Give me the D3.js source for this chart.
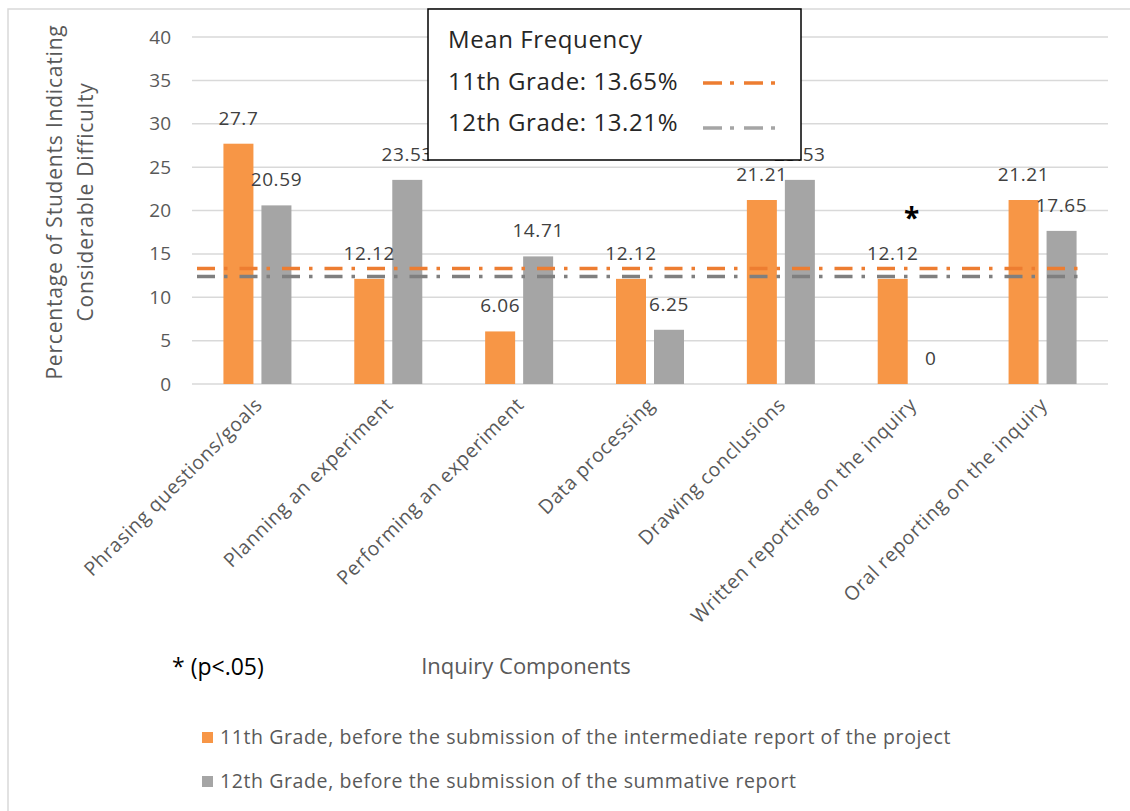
<!DOCTYPE html>
<html>
<head>
<meta charset="utf-8">
<script src="https://cdn.jsdelivr.net/npm/d3@7"></script>
<style>
  body { margin: 0; background: #fff; }
  svg text { font-family: "Open Sans", sans-serif; }
</style>
</head>
<body>
<svg id="chart" width="1130" height="811"></svg>
<script>
// data
var categories = ["Phrasing questions/goals", "Planning an experiment", "Performing an experiment",
    "Data processing", "Drawing conclusions", "Written reporting on the inquiry", "Oral reporting on the inquiry"];
var grade11 = [27.7, 12.12, 6.06, 12.12, 21.21, 12.12, 21.21];
var grade12 = [20.59, 23.53, 14.71, 6.25, 23.53, 0, 17.65];
var seriesNames = ["11th Grade, before the submission of the intermediate report of the project",
    "12th Grade, before the submission of the summative report"];
var meanLabels = ["11th Grade: 13.65%", "12th Grade: 13.21%"];
var meanLevels = [13.3, 12.4];   // where the dashed lines sit in the picture
var yTicks = [0, 5, 10, 15, 20, 25, 30, 35, 40];
var significant = ["Written reporting on the inquiry"];

var barColors = ["#F79646", "#A5A5A5"];
var lineColors = ["#ED7D31", "#7F7F7F"];
var sampleColors = ["#ED7D31", "#A5A5A5"];

var chart = d3.select("#chart");

// outer frame (only top/left visible in the picture)
chart.append("rect")
    .attr("x", 8).attr("y", 9)
    .attr("width", 1300).attr("height", 1000)
    .attr("fill", "none")
    .attr("stroke", "#D9D9D9")
    .attr("stroke-width", 1.5);

var xScale = d3.scaleBand()
    .domain(categories)
    .range([192, 1108]);

var xInner = d3.scaleBand()
    .domain([0, 1])
    .range([0, 68])
    .paddingInner(0.2105);

var yScale = d3.scaleLinear()
    .domain([0, 40])
    .range([384, 37]);

// gridlines
chart.append("g")
    .selectAll("line")
    .data(yTicks).enter()
        .append("line")
        .attr("x1", 192).attr("x2", 1108)
        .attr("y1", function(d) { return yScale(d); })
        .attr("y2", function(d) { return yScale(d); })
        .attr("stroke", "#D9D9D9")
        .attr("stroke-width", 1.5);

// y axis tick labels
var yAxis = chart.append("g")
    .attr("transform", "translate(171,0)")
    .call(d3.axisLeft(yScale).tickValues(yTicks).tickSize(0).tickPadding(0));
yAxis.select(".domain").remove();
yAxis.selectAll("text")
    .attr("font-family", "Open Sans")
    .attr("font-size", "19px")
    .attr("fill", "#595959");

// bars
var rows = categories.map(function(c, i) { return { cat: c, vals: [grade11[i], grade12[i]] }; });

var groups = chart.append("g").selectAll("g")
    .data(rows).enter()
    .append("g")
    .attr("transform", function(d) {
        return "translate(" + (xScale(d.cat) + (xScale.bandwidth() - 68) / 2) + ",0)";
    });

groups.selectAll("rect")
    .data(function(d) { return d.vals; }).enter()
        .append("rect")
        .attr("x", function(d, i) { return xInner(i); })
        .attr("y", function(d) { return yScale(d); })
        .attr("width", xInner.bandwidth())
        .attr("height", function(d) { return yScale(0) - yScale(d); })
        .attr("fill", function(d, i) { return barColors[i]; });

groups.selectAll("text")
    .data(function(d) { return d.vals; }).enter()
        .append("text")
        .text(function(d) { return d; })
        .attr("x", function(d, i) { return xInner(i) + xInner.bandwidth() / 2; })
        .attr("y", function(d) { return yScale(d) - 19; })
        .attr("text-anchor", "middle")
        .attr("font-size", "19px")
        .attr("letter-spacing", "0.6px")
        .attr("fill", "#404040");

// mean lines
chart.append("g").selectAll("line")
    .data(meanLevels).enter()
        .append("line")
        .attr("x1", 197).attr("x2", 1083)
        .attr("y1", function(d) { return yScale(d); })
        .attr("y2", function(d) { return yScale(d); })
        .attr("stroke", function(d, i) { return lineColors[i]; })
        .attr("stroke-width", 3.5)
        .attr("stroke-dasharray", "18,9,3.5,12");

// significance star
chart.selectAll(".star")
    .data(significant).enter()
        .append("text")
        .text("*")
        .attr("x", function(d) { return xScale(d) + xScale.bandwidth() / 2; })
        .attr("y", 228)
        .attr("text-anchor", "middle")
        .attr("font-size", "28px")
        .attr("font-weight", "bold")
        .attr("fill", "#000");

// x category labels
chart.append("g").selectAll("text")
    .data(categories).enter()
        .append("text")
        .text(function(d) { return d; })
        .attr("transform", function(d) {
            return "translate(" + (xScale(d) + xScale.bandwidth() / 2 + 6) + ",406) rotate(-45)";
        })
        .attr("text-anchor", "end")
        .attr("font-size", "19.5px")
        .attr("letter-spacing", "0.6px")
        .attr("fill", "#595959");

// axis titles
chart.append("text")
    .attr("transform", "translate(62,202) rotate(-90)")
    .attr("text-anchor", "middle")
    .attr("font-size", "21px")
    .attr("letter-spacing", "0.8px")
    .attr("fill", "#595959")
    .text("Percentage of Students Indicating");
chart.append("text")
    .attr("transform", "translate(93,202) rotate(-90)")
    .attr("text-anchor", "middle")
    .attr("font-size", "21px")
    .attr("letter-spacing", "0.8px")
    .attr("fill", "#595959")
    .text("Considerable Difficulty");

chart.append("text")
    .attr("x", 526).attr("y", 674)
    .attr("text-anchor", "middle")
    .attr("font-size", "22px")
    .attr("fill", "#595959")
    .text("Inquiry Components");

chart.append("text")
    .attr("x", 172).attr("y", 675)
    .attr("font-size", "23px")
    .attr("fill", "#000")
    .text("* (p<.05)");

// mean frequency box
var box = chart.append("g");
box.append("rect")
    .attr("x", 428).attr("y", 9)
    .attr("width", 373).attr("height", 151)
    .attr("fill", "#fff")
    .attr("stroke", "#000")
    .attr("stroke-width", 1.5);
box.append("text")
    .attr("x", 448).attr("y", 48)
    .attr("font-size", "24px")
    .attr("letter-spacing", "0.6px")
    .attr("fill", "#262626")
    .text("Mean Frequency");
box.selectAll(".ml")
    .data(meanLabels).enter()
        .append("text")
        .attr("x", 448)
        .attr("y", function(d, i) { return 90 + i * 41; })
        .attr("font-size", "24px")
        .attr("letter-spacing", "0.6px")
        .attr("fill", "#262626")
        .text(function(d) { return d; });
box.selectAll(".ms")
    .data(meanLabels).enter()
        .append("line")
        .attr("x1", 703).attr("x2", 778)
        .attr("y1", function(d, i) { return 83 + i * 45; })
        .attr("y2", function(d, i) { return 83 + i * 45; })
        .attr("stroke", function(d, i) { return sampleColors[i]; })
        .attr("stroke-width", 3.5)
        .attr("stroke-dasharray", "19,8,4,10");

// series legend
var leg = chart.append("g").selectAll("g")
    .data(seriesNames).enter()
    .append("g")
    .attr("transform", function(d, i) { return "translate(202," + (732 + i * 44) + ")"; });
leg.append("rect")
    .attr("width", 11).attr("height", 11)
    .attr("fill", function(d, i) { return barColors[i]; });
leg.append("text")
    .attr("x", 18).attr("y", 12)
    .attr("font-size", "19.5px")
    .attr("letter-spacing", "0.6px")
    .attr("fill", "#595959")
    .text(function(d) { return d; });
</script>
</body>
</html>
